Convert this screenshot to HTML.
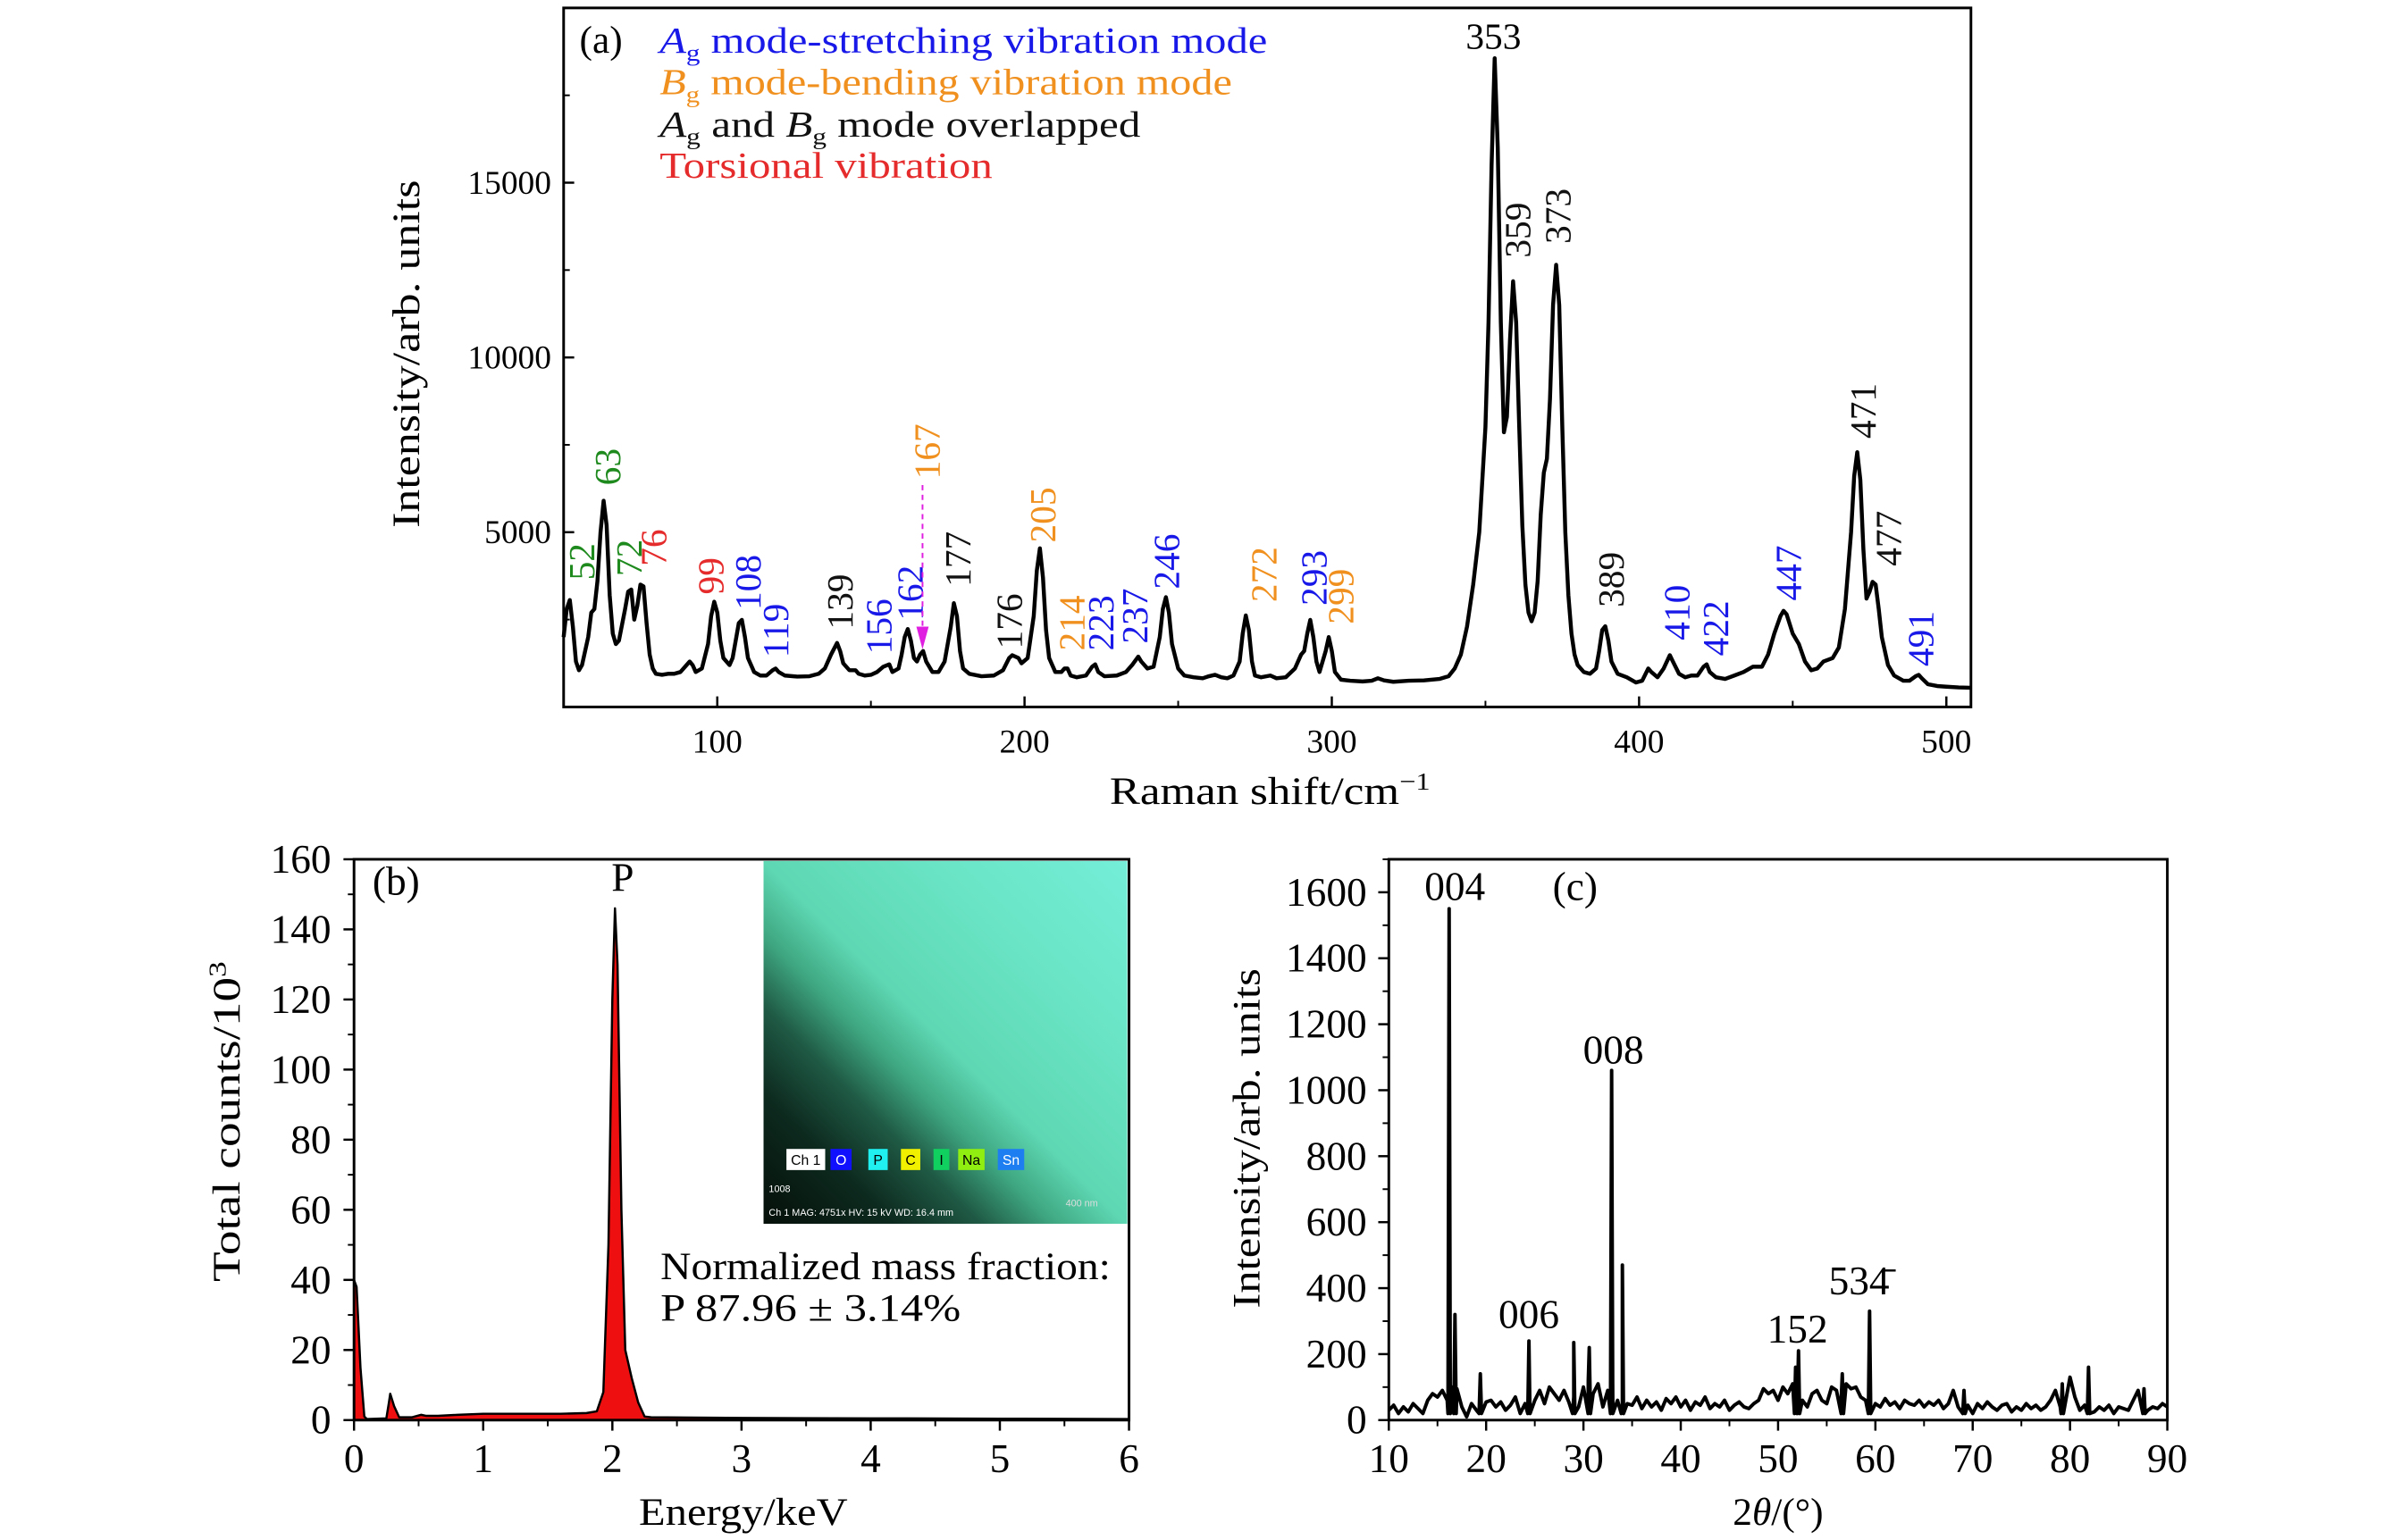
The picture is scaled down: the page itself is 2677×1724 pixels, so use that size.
<!DOCTYPE html>
<html><head><meta charset="utf-8"><style>
html,body{margin:0;padding:0;background:#fff}
svg{display:block;font-family:"Liberation Serif",serif}
</style></head><body>
<svg id="fig" xmlns="http://www.w3.org/2000/svg" width="2677" height="1724" viewBox="0 0 2677 1724">
<g transform="scale(0.9856)">
<g id="pa"></g>
<g id="pb"></g>
<g id="pc"></g>
</g>
</svg>
<script>
// ---------- Panel (a) Raman data ----------
const ramanX=[50,51,52,53,54,55,56,58,59,60,61,62,63,64,65,66,67,68,70,71,72,73,74,75,76,77,78,79,80,82,84,86,88,90,91,92,93,95,97,98,99,100,101,102,104,105,106,107,108,109,110,112,114,116,118,119,120,122,126,130,133,135,137,139,140,141,143,145,146,148,150,152,154,156,157,159,160,161,162,163,164,165,166,167,168,170,172,174,176,177,178,179,180,182,186,190,193,195,196,198,199,201,203,204,205,206,207,208,210,212,213,214,215,217,220,222,223,224,226,230,233,235,237,238,240,242,244,245,246,247,248,250,252,255,258,260,262,264,266,268,270,271,272,273,274,275,277,280,282,285,288,290,291,292,293,294,295,296,298,299,300,301,303,306,310,313,315,317,320,325,330,335,338,340,342,344,346,348,350,351,352,353,354,355,356,357,358,359,360,361,362,363,364,365,366,367,368,369,370,371,372,373,374,375,376,377,378,379,380,382,384,386,387,388,389,390,391,393,396,399,401,403,404,406,408,410,411,413,415,417,419,421,422,423,425,428,431,434,437,440,442,444,446,447,448,450,452,454,456,458,460,463,465,467,469,470,471,472,473,474,475,476,477,478,479,481,483,486,488,490,491,492,494,497,500,504,508];
const ramanY=[2000,2800,3060,2300,1300,1050,1200,2000,2700,2800,3600,5000,5900,5200,3200,2100,1800,1900,2800,3300,3360,2500,2900,3500,3450,2400,1500,1100,950,920,950,950,1000,1200,1300,1200,1000,1100,1800,2600,3010,2700,1900,1400,1200,1400,1900,2400,2490,2000,1400,1000,900,900,1050,1100,1000,900,870,880,950,1100,1500,1830,1600,1250,1050,1050,950,900,920,1000,1150,1220,1000,1100,1500,2000,2230,1900,1400,1300,1500,1600,1300,1000,1000,1300,2300,2970,2600,1600,1100,950,880,900,1050,1400,1480,1400,1250,1400,2600,3900,4540,3700,2200,1400,1000,1000,1100,1100,900,850,900,1150,1220,1000,880,900,1000,1200,1440,1300,1100,1150,2000,2800,3140,2700,1800,1100,900,850,820,880,920,850,820,900,1300,2100,2620,2200,1300,900,850,900,820,850,1100,1500,1600,2100,2490,2000,1300,1000,1600,2000,1600,1000,780,750,730,750,820,760,720,750,760,800,880,1100,1500,2300,3500,5000,8000,11000,15500,18560,16000,11000,7860,8300,10500,12180,11000,8000,5200,3500,2700,2450,2700,3600,5500,6700,7100,8800,11500,12650,11500,8000,5000,3200,2100,1500,1200,1000,950,1100,1600,2200,2310,1900,1300,950,850,700,750,1100,1000,850,1100,1480,1300,950,850,900,900,1150,1220,1000,850,800,900,1000,1150,1150,1500,2100,2600,2750,2650,2100,1800,1300,1050,1100,1300,1400,1700,2800,5000,6600,7290,6500,4500,3100,3300,3580,3500,2800,2000,1200,900,750,750,880,920,820,650,600,580,560,550];
const ramanXTicks=[100,200,300,400,500];
const ramanYTicks=[5000,10000,15000];
const peakText=["52","63","72","76","99","108","119","139","156","162","167","177","176","205","214","223","237","246","272","293","299","359","373","389","410","422","447","471","477","491"];
const peakLabelX=[56,64.3,71.4,79.4,98,110,119.1,140,152.6,162.8,168.3,178.3,195.1,206,215.4,224.9,236,246.3,278,294.3,303,360.6,373.7,391,412.3,424.9,448.6,472.9,481.2,491.7];
const peakLabelY=[3630,6340,3740,4030,3220,2770,1410,2220,1510,2470,6520,3440,1660,4700,1610,1610,1810,3370,3000,2900,2370,12850,13250,2850,1910,1460,3040,7680,4030,1160];
const peakClass=["g","g","g","r","r","b","b","k","b","b","o","k","k","o","o","b","b","b","o","b","o","k","k","k","b","b","b","k","k","b"];
// ---------- Panel (b) EDS data ----------
const edsX=[0,0.02,0.05,0.08,0.1,0.25,0.27,0.28,0.31,0.35,0.45,0.52,0.56,0.65,0.8,1.0,1.3,1.6,1.8,1.88,1.93,1.97,2.0,2.02,2.04,2.07,2.1,2.15,2.2,2.25,2.3,3,4,5,6];
const edsY=[40,38,15,1,0.3,0.5,5,7.5,4,0.8,0.8,1.5,1.2,1.2,1.5,1.8,1.8,1.8,2,2.5,8,50,120,146,130,60,20,12,5,1,0.8,0.6,0.5,0.4,0.3];
const edsXTicks=[0,1,2,3,4,5,6];
const edsYTicks=[0,20,40,60,80,100,120,140,160];
// ---------- Panel (c) XRD data ----------
const xrdNoise=[30,45,20,40,25,50,35,20,60,80,70,90,60,100,95,40,10,50,30,45,55,60,40,55,30,45,70,20,50,35,60,90,50,100,80,60,90,55,70,40,100,120,80,110,40,90,110,60,30,50,45,70,35,60,40,55,30,65,50,70,40,60,30,55,45,70,35,50,40,60,30,45,55,40,35,50,60,95,80,90,60,100,80,110,70,60,40,80,90,60,50,100,90,70,110,95,100,70,60,75,50,40,65,45,55,35,60,50,45,60,40,55,45,60,35,50,90,40,30,45,20,50,35,55,40,30,45,50,25,40,30,50,35,45,30,40,60,90,40,50,130,70,30,45,50,25,40,30,45,20,40,35,30,60,90,45,30,40,35,50,40];
const xrdPeakX=[16.2,16.8,19.4,24.4,29,30.6,32.9,34,51.8,52.1,56.6,59.4,69.1,79.2,81.9,87.6];
const xrdPeakY=[1550,320,140,240,235,220,1060,470,160,210,140,330,90,110,160,95];
const xrdXTicks=[10,20,30,40,50,60,70,80,90];
const xrdYTicks=[0,200,400,600,800,1000,1200,1400,1600];

const NS="http://www.w3.org/2000/svg";
function mk(parent,tag,attrs,text){const e=document.createElementNS(NS,tag);for(const k in attrs)e.setAttribute(k,attrs[k]);if(text!==undefined)e.textContent=text;parent.appendChild(e);return e;}
const colors={b:"#1818e8",o:"#f0901e",g:"#1e8a1e",r:"#e52b2b",k:"#111"};

function frame(g,o){
  const {L,R,T,B,sx,sy,xt,yt,xminor,yminor,xmin,xmax,ymin,ymax,ylabX,xlabY,fs,dir}=o;
  const f=mk(g,"rect",{x:L,y:T,width:R-L,height:B-T,fill:"none",stroke:"#000","stroke-width":3});
  
  
  const s=dir; // 1 inward, -1 outward
  xt.forEach(v=>{const x=sx(v);
    const t=mk(g,"line",{x1:x,x2:x,y1:B,y2:B-12*s,stroke:"#000","stroke-width":2.5});
    
    
    const l=mk(g,"text",{x:x,y:xlabY,"font-size":fs,"text-anchor":"middle"},String(v));
    
    });
  for(let v=xmin;v<=xmax+1e-9;v+=xminor){if(xt.some(u=>Math.abs(u-v)<1e-6))continue;const x=sx(v);
    const t=mk(g,"line",{x1:x,x2:x,y1:B,y2:B-7*s,stroke:"#000","stroke-width":2});
    
    }
  yt.forEach(v=>{const y=sy(v);
    const t=mk(g,"line",{x1:L,x2:L+12*s,y1:y,y2:y,stroke:"#000","stroke-width":2.5});
    
    
    const l=mk(g,"text",{x:ylabX,y:y+fs*0.33,"font-size":fs,"text-anchor":"end"},String(v));
    
    });
  for(let v=ymin;v<=ymax+1e-9;v+=yminor){if(yt.some(u=>Math.abs(u-v)<1e-6))continue;const y=sy(v);
    const t=mk(g,"line",{x1:L,x2:L+7*s,y1:y,y2:y,stroke:"#000","stroke-width":2});
    
    }
}

// ---- Panel A ----
(function(){
  const g=document.getElementById("pa");
  const L=640,R=2238,T=9,B=803,xmin=50,xmax=508,ymin=0,ymax=20000;
  const sx=v=>L+(v-xmin)/(xmax-xmin)*(R-L), sy=v=>B-(v-ymin)/(ymax-ymin)*(B-T);
  frame(g,{L,R,T,B,sx,sy,xt:ramanXTicks,yt:ramanYTicks,xminor:50,yminor:2500,xmin:50,xmax:500,ymin:0,ymax:20000,ylabX:626,xlabY:855,fs:38,dir:1});
  const pts=ramanX.map((x,i)=>sx(x).toFixed(1)+","+sy(ramanY[i]).toFixed(1)).join(" ");
  const pl=mk(g,"polyline",{points:pts,fill:"none",stroke:"#000","stroke-width":4.5,"stroke-linejoin":"round"});
  
  
  peakText.forEach((t,i)=>{const x=sx(peakLabelX[i])+14,y=sy(peakLabelY[i]);
    const e=mk(g,"text",{x:x,y:y,"font-size":42,fill:colors[peakClass[i]],transform:`rotate(-90 ${x} ${y})`},t);
    
    });
  const top=mk(g,"text",{x:sx(352.6),y:sy(18840),"font-size":42,"text-anchor":"middle"},"353");
  
  
  const ax=sx(166.8);
  const ar=mk(g,"line",{x1:ax,x2:ax,y1:sy(6350),y2:sy(2300),stroke:"#e020e0","stroke-width":2,"stroke-dasharray":"6,5"});
  
  
  const ah=mk(g,"polygon",{points:`${ax-7},${sy(2300)} ${ax+7},${sy(2300)} ${ax},${sy(1650)}`,fill:"#e020e0"});
  
  
  const pa=mk(g,"text",{x:658,y:60,"font-size":44},"(a)");
  
  
  const leg=[["#1818e8","A","mode-stretching vibration mode",60,690],["#f0901e","B","mode-bending vibration mode",107,650],["#111","A","and ",155,546],["#e52b2b","","Torsional vibration",202,378]];
  leg.forEach((l,i)=>{
    const e=mk(g,"text",{x:749,y:l[3],"font-size":42,fill:l[0],textLength:l[4],lengthAdjust:"spacingAndGlyphs"});
    
    
    if(l[1]){mk(e,"tspan",{"font-style":"italic"},l[1]);mk(e,"tspan",{"font-size":27,dy:9},"g");mk(e,"tspan",{dy:-9}," "+l[2]);}
    else e.textContent=l[2];
    if(i==2){mk(e,"tspan",{"font-style":"italic"},"B");mk(e,"tspan",{"font-size":27,dy:9},"g");mk(e,"tspan",{dy:-9}," mode overlapped");}
  });
  const yl=mk(g,"text",{x:476,y:402,"font-size":44,"text-anchor":"middle",textLength:395,lengthAdjust:"spacingAndGlyphs",transform:"rotate(-90 476 402)"},"Intensity/arb. units");
  
  
  const xl=mk(g,"text",{x:1442,y:913,"font-size":44,"text-anchor":"middle",textLength:364,lengthAdjust:"spacingAndGlyphs"});
  
  
  xl.textContent="Raman shift/cm";mk(xl,"tspan",{"font-size":28,dy:-16},"−1");
})();

// ---- Panel B ----
(function(){
  const g=document.getElementById("pb");
  const L=402,R=1282,T=976,B=1613,xmin=0,xmax=6,ymin=0,ymax=160;
  const sx=v=>L+(v-xmin)/(xmax-xmin)*(R-L), sy=v=>B-(v-ymin)/(ymax-ymin)*(B-T);
  const defs=mk(g,"defs",{});
  const lg=mk(defs,"linearGradient",{id:"ins",x1:"0",y1:"1",x2:"1",y2:"0"});
  [["0","#050f09"],["0.18","#0d2a1f"],["0.3","#1f5a45"],["0.4","#3fa882"],["0.5","#5ed8b3"],["0.75","#6ae5c6"],["1","#74eed8"]].forEach(s=>mk(lg,"stop",{offset:s[0],"stop-color":s[1]}));
  const im=mk(g,"rect",{x:867,y:978,width:413,height:412,fill:"url(#ins)"});
  
  
  const chips=[["Ch 1","#ffffff","#000",893,44],["O","#1010ff","#fff",943,24],["P","#20f0f0","#000",986,22],["C","#f0f000","#000",1023,22],["I","#10d060","#000",1060,18],["Na","#90ee10","#000",1088,30],["Sn","#1c7ef0","#fff",1133,30]];
  chips.forEach(c=>{const r=mk(g,"rect",{x:c[3],y:1305,width:c[4],height:24,fill:c[1]});
    
    
    const t=mk(g,"text",{x:c[3]+c[4]/2,y:1323,"font-size":16,"text-anchor":"middle",fill:c[2],"font-family":"Liberation Sans"},c[0]);
    
    });
  const t1=mk(g,"text",{x:873,y:1354,"font-size":11,fill:"#fff","font-family":"Liberation Sans"},"1008");
  
  
  const t2=mk(g,"text",{x:873,y:1381,"font-size":11,fill:"#fff","font-family":"Liberation Sans"},"Ch 1    MAG: 4751x    HV: 15 kV    WD: 16.4 mm");
  
  
  const t3=mk(g,"text",{x:1210,y:1370,"font-size":11,fill:"#ddd","font-family":"Liberation Sans"},"400 nm");
  
  
  let d="M"+sx(edsX[0])+","+sy(0);
  edsX.forEach((x,i)=>d+=" L"+sx(x).toFixed(1)+","+sy(edsY[i]).toFixed(1));
  d+=" L"+sx(edsX[edsX.length-1])+","+sy(0)+" Z";
  const ar=mk(g,"path",{d:d,fill:"#ee1010",stroke:"#000","stroke-width":2.5,"stroke-linejoin":"round"});
  
  
  frame(g,{L,R,T,B,sx,sy,xt:edsXTicks,yt:edsYTicks,xminor:0.5,yminor:10,xmin:0,xmax:6,ymin:0,ymax:160,ylabX:376,xlabY:1672,fs:46,dir:-1});
  const pl=mk(g,"text",{x:423,y:1016,"font-size":46},"(b)");
  
  
  const pp=mk(g,"text",{x:sx(2.08),y:1012,"font-size":46,"text-anchor":"middle"},"P");
  
  
  const n1=mk(g,"text",{x:750,y:1453,"font-size":44,textLength:511,lengthAdjust:"spacingAndGlyphs"},"Normalized mass fraction:");
  
  
  const n2=mk(g,"text",{x:750,y:1500,"font-size":44,"xml:space":"preserve",textLength:341,lengthAdjust:"spacingAndGlyphs"},"P   87.96 ± 3.14%");
  
  
  const yl=mk(g,"text",{x:272,y:1274,"font-size":44,"text-anchor":"middle",textLength:364,lengthAdjust:"spacingAndGlyphs",transform:"rotate(-90 272 1274)"});
  
  
  yl.textContent="Total counts/10";mk(yl,"tspan",{"font-size":28,dy:-16},"3");
  const xl=mk(g,"text",{x:844,y:1732,"font-size":44,"text-anchor":"middle",textLength:237,lengthAdjust:"spacingAndGlyphs"},"Energy/keV");
  
  
})();

// ---- Panel C ----
(function(){
  const g=document.getElementById("pc");
  const L=1577,R=2461,T=976,B=1613,xmin=10,xmax=90,ymin=0,ymax=1700;
  const sx=v=>L+(v-xmin)/(xmax-xmin)*(R-L), sy=v=>B-(v-ymin)/(ymax-ymin)*(B-T);
  const n=xrdNoise.length, step=(xmax-xmin)/(n-1);
  let pts=xrdNoise.map((y,i)=>[xmin+i*step,y]);
  xrdPeakX.forEach((x,i)=>{pts.push([x-0.12,20]);pts.push([x,xrdPeakY[i]]);pts.push([x+0.12,20]);});
  pts.sort((a,b)=>a[0]-b[0]);
  const pl=mk(g,"polyline",{points:pts.map(p=>sx(p[0]).toFixed(1)+","+sy(p[1]).toFixed(1)).join(" "),fill:"none",stroke:"#000","stroke-width":4,"stroke-linejoin":"round"});
  
  
  frame(g,{L,R,T,B,sx,sy,xt:xrdXTicks,yt:xrdYTicks,xminor:5,yminor:100,xmin:10,xmax:90,ymin:0,ymax:1700,ylabX:1552,xlabY:1672,fs:46,dir:-1});
  const labs=[["004",1652,1022],["006",1736,1508],["008",1832,1208],["152",2041,1525]];
  labs.forEach(l=>{const e=mk(g,"text",{x:l[1],y:l[2],"font-size":46,"text-anchor":"middle"},l[0]);
    
    });
  const e=mk(g,"text",{x:2111,y:1470,"font-size":46,"text-anchor":"middle"},"534\u0304");
  
  
  const pc=mk(g,"text",{x:1763,y:1022,"font-size":46},"(c)");
  
  
  const yl=mk(g,"text",{x:1430,y:1293,"font-size":44,"text-anchor":"middle",textLength:386,lengthAdjust:"spacingAndGlyphs",transform:"rotate(-90 1430 1293)"},"Intensity/arb. units");
  
  
  const xl=mk(g,"text",{x:2019,y:1732,"font-size":44,"text-anchor":"middle"});
  
  
  xl.textContent="2";mk(xl,"tspan",{"font-style":"italic"},"θ");mk(xl,"tspan",{},"/(°)");
})();
</script>
</body></html>
